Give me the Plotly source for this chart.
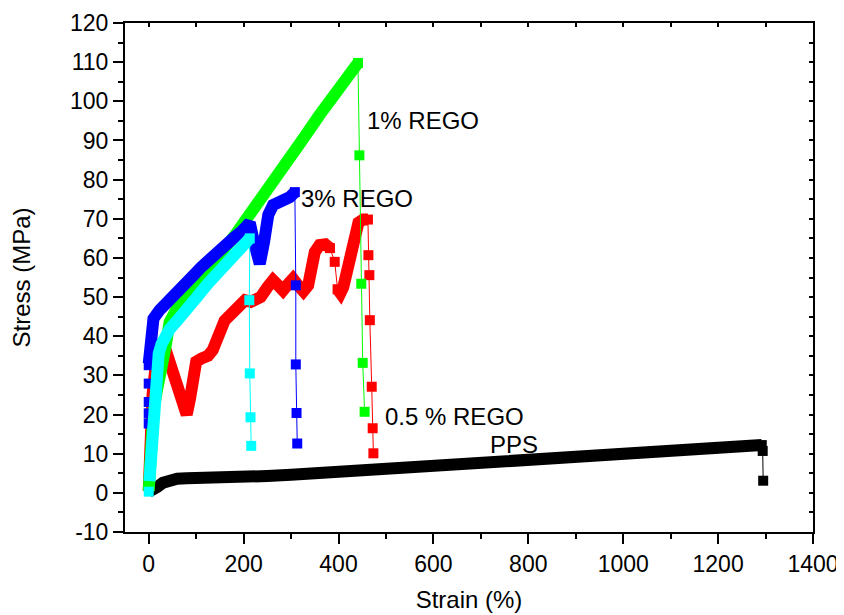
import plotly.graph_objects as go

# ---------------- data ----------------
# PPS (black)
pps_x = [0, 8, 18, 30, 45, 60, 80, 100, 150, 200, 250, 300, 350, 400, 450, 500,
         600, 700, 800, 900, 1000, 1100, 1200, 1292]
pps_y = [0.3, 0.6, 1.5, 2.6, 3.3, 3.6, 3.7, 3.7, 3.8, 4.0, 4.3, 4.6, 5.0, 5.2, 5.5, 5.8,
         6.5, 7.2, 8.0, 8.8, 9.6, 10.4, 11.2, 12.2]
pps_drop_x = [1292, 1294, 1295]
pps_drop_y = [12.2, 10.7, 3.1]

# 0.5 % REGO (red)
red_x = [0, 3, 8, 15, 25, 37, 50, 62, 72, 80, 87, 93, 100, 111, 125, 135, 146, 160, 175,
         188, 203, 215, 236, 250, 262, 273, 283, 295, 304, 315, 326, 336, 343, 350, 360,
         372, 382, None, 398, 404, 410, 418, 426, 434, 442, 452, 462]
red_y = [0.5, 12, 25, 33, 37, 36, 31, 26, 21.5, 20, 24, 32, 33.5, 34.3, 35, 36.5, 40.7, 44,
         45.8, 47.5, 49.2, 48.8, 50, 52.5, 54.3, 53, 51.7, 53.5, 54.7, 53, 51.5, 53, 57, 61.5,
         63.3, 63.5, 62.5, None, 52, 51, 52.5, 57, 62, 66.5, 69, 69.8, 69.8]
red_mid_x = [382, 392, 398]
red_mid_y = [62.5, 59, 52]
red_drop_x = [462, 463, 465, 466, 470, 472, 473.5]
red_drop_y = [69.8, 60.7, 55.6, 44.1, 27.1, 16.5, 10.1]

# 1% REGO (green)
green_x = [0, 2, 5, 10, 17, 27, 35, 44, 65, 90, 120, 150, 180, 205, 240, 280, 320, 360,
           400, 441]
green_y = [0.5, 8, 15, 21, 26, 30.5, 37, 43.6, 48.4, 52, 56, 61, 65.5, 69.6, 75.5, 82.5,
           89.5, 96.5, 103.3, 109.8]
green_drop_x = [441, 444, 448, 451, 455]
green_drop_y = [109.8, 86.2, 53.4, 33.2, 20.7]

# 3% REGO (blue)
blue_start_x = [0, 0, 0, 0, 0]
blue_start_y = [17.7, 20.3, 23.2, 27.9, 32.6]
blue_x = [0, 3, 5.5, 10, 23, 41, 58, 76, 94, 111, 128, 146, 163, 181, 196, 209, 213, 222,
          234, 243, 252, 262, 283, 297, 308]
blue_y = [33, 36, 42, 44.5, 46.7, 49.2, 51.3, 53.4, 55.5, 57.7, 59.8, 61.9, 63.6, 65.3,
          66.8, 68.3, 69, 64, 58.5, 64, 71, 73.5, 74.5, 75.5, 76.8]
blue_drop_x = [308, 310, 310, 311.5, 313]
blue_drop_y = [76.8, 53, 32.8, 20.4, 12.6]

# cyan sample
cyan_start_x = [0]
cyan_start_y = [0.3]
cyan_x = [1.5, 5, 9, 12, 16, 21, 27, 35, 44, 60, 78, 100, 125, 148, 165, 183, 200, 213]
cyan_y = [3, 10, 17.5, 24, 31, 35.5, 38, 40, 41.8, 44, 46.2, 49.8, 53.5, 56.5, 58.5, 60.5,
          62.8, 65]
cyan_drop_x = [213, 212, 213, 214.5, 216]
cyan_drop_y = [65, 49.2, 30.5, 19.3, 12.0]

# axis ticks
x_ticks = [0, 200, 400, 600, 800, 1000, 1200, 1400]
x_ticktext = ["0", "200", "400", "600", "800", "1000", "1200", "1400"]
y_ticks = [-10, 0, 10, 20, 30, 40, 50, 60, 70, 80, 90, 100, 110, 120]
y_ticktext = ["-10", "0", "10", "20", "30", "40", "50", "60", "70", "80", "90", "100",
              "110", "120"]

labels = [
    ("1% REGO", 456, 95.1),
    ("3% REGO", 317, 75.3),
    ("0.5 % REGO", 494, 19.4),
    ("PPS", 716, 12.4),
]

BLACK, RED, GREEN, BLUE, CYAN = "#000000", "#ff0000", "#00ff00", "#0000ff", "#00ffff"
FONT = "Liberation Sans, Arial, sans-serif"

fig = go.Figure()


def band(x, y, color):
    fig.add_trace(go.Scatter(x=x, y=y, mode="lines", connectgaps=False,
                             line=dict(color=color, width=12),
                             showlegend=False, hoverinfo="skip"))


def marks(x, y, color, lines=True):
    fig.add_trace(go.Scatter(x=x, y=y, mode="lines+markers" if lines else "markers",
                             line=dict(color=color, width=1),
                             marker=dict(symbol="square", size=10, color=color,
                                         line=dict(width=0)),
                             showlegend=False, hoverinfo="skip"))


band(pps_x, pps_y, BLACK)
marks(pps_drop_x, pps_drop_y, BLACK)

band(red_x, red_y, RED)
marks(red_mid_x, red_mid_y, RED)
marks(red_drop_x, red_drop_y, RED)

band(green_x, green_y, GREEN)
marks(green_drop_x, green_drop_y, GREEN)

marks(blue_start_x, blue_start_y, BLUE, lines=False)
band(blue_x, blue_y, BLUE)
marks(blue_drop_x, blue_drop_y, BLUE)

marks(cyan_start_x, cyan_start_y, CYAN, lines=False)
band(cyan_x, cyan_y, CYAN)
marks(cyan_drop_x, cyan_drop_y, CYAN)

# empty trace so the mirrored (top/right) axes are drawn
fig.add_trace(go.Scatter(x=[], y=[], xaxis="x2", yaxis="y2", showlegend=False))

for text, x, y in labels:
    fig.add_annotation(x=x, y=y, text=text, showarrow=False, xanchor="left",
                       yanchor="middle", font=dict(size=24, color="black", family=FONT))

XR = [-50, 1400]
YR = [-10, 120]

# the page body adds an 8 px offset, so the figure is slightly smaller than the window
fig.update_layout(
    width=836, height=607,
    margin=dict(l=117, r=31, t=15, b=83),
    paper_bgcolor="white", plot_bgcolor="white",
    font=dict(family=FONT, size=23, color="black"),
    xaxis=dict(range=XR, tickmode="array", tickvals=x_ticks, ticktext=x_ticktext,
               ticks="outside", ticklen=10, tickwidth=2, automargin=False,
               tickcolor="black", showline=True, linewidth=2, linecolor="black",
               showgrid=False, zeroline=False,
               minor=dict(dtick=100, tick0=0, ticks="outside", ticklen=5, tickwidth=2,
                          tickcolor="black", showgrid=False),
               title=dict(text="Strain (%)", font=dict(size=24), standoff=16),
               tickfont=dict(size=23)),
    yaxis=dict(range=YR, tickmode="array", tickvals=y_ticks, ticktext=y_ticktext,
               ticks="outside", ticklen=10, tickwidth=2, automargin=False,
               tickcolor="black", showline=True, linewidth=2, linecolor="black",
               showgrid=False, zeroline=False,
               minor=dict(dtick=5, tick0=0, ticks="outside", ticklen=5, tickwidth=2,
                          tickcolor="black", showgrid=False),
               title=dict(text="Stress (MPa)", font=dict(size=24), standoff=43),
               tickfont=dict(size=23)),
    xaxis2=dict(range=XR, overlaying="x", side="top", anchor="y", tick0=0, dtick=100,
                ticks="inside", ticklen=4, tickwidth=1.5, tickcolor="black",
                automargin=False,
                showticklabels=False, showline=True, linewidth=2, linecolor="black",
                showgrid=False, zeroline=False),
    yaxis2=dict(range=YR, overlaying="y", side="right", anchor="x", tick0=0, dtick=5,
                ticks="inside", ticklen=4, tickwidth=1.5, tickcolor="black",
                automargin=False,
                showticklabels=False, showline=True, linewidth=2, linecolor="black",
                showgrid=False, zeroline=False),
)

fig.write_html("out.html")
